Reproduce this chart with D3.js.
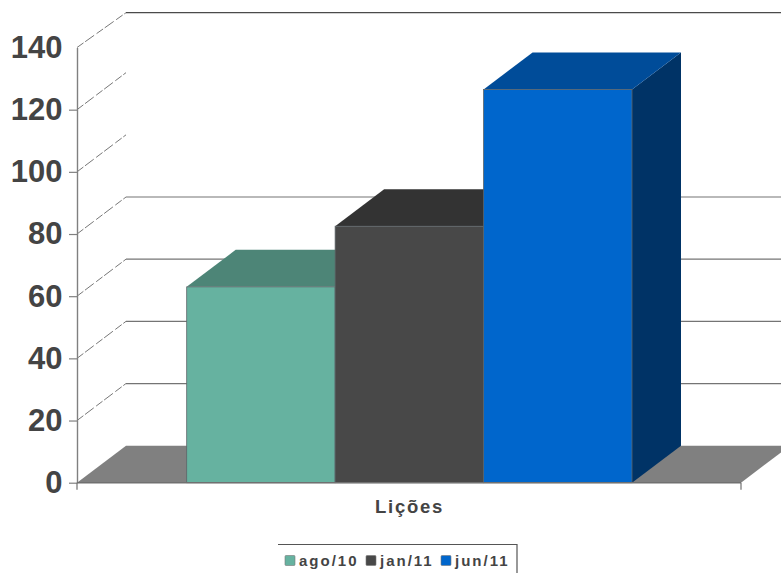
<!DOCTYPE html>
<html>
<head>
<meta charset="utf-8">
<style>
html, body { margin: 0; padding: 0; background: #fff; overflow: hidden; }
svg { display: block; }
text { font-family: "Liberation Sans", Arial, sans-serif; font-weight: bold; fill: #444; }
</style>
<script src="https://cdn.jsdelivr.net/npm/d3@7"></script>
</head>
<body>
<svg id="chart" width="781" height="573"></svg>
<script>
// Chart content
const category = "Lições";
const seriesNames = ["ago/10", "jan/11", "jun/11"];
const seriesValues = [63, 82.5, 126.5];
const tickValues = [0, 20, 40, 60, 80, 100, 120, 140];
const backWallLines = [20, 40, 60, 80, 140];

// Shades for each bar: front, top and right-hand faces
const frontColors = ["#66b2a0", "#484848", "#0066cc"];
const topColors = ["#4d8577", "#333333", "#004c99"];
const sideColors = ["#3c6a5f", "#262626", "#003366"];

// Oblique projection offset of the 3D box
const depthX = 49;
const depthY = -37;
const topRimY = 12.7;

const svg = d3.select("#chart");
const y = d3.scaleLinear().domain([0, 140]).range([482.7, 47.5]);
const x = d3.scaleBand().domain(seriesNames).range([186.7, 632]);
const plotLeft = 77, plotRight = 741;
const poly = pts => pts.map(p => p.join(",")).join(" ");
const backY = d => d === 140 ? topRimY : y(d) + depthY;

// Back wall rules and the dashed links running from the axis to them
svg.append("g").selectAll("line").data(backWallLines).join("line")
  .attr("x1", plotLeft + depthX).attr("x2", plotRight + depthX)
  .attr("y1", backY).attr("y2", backY)
  .attr("stroke", d => d === 140 ? "#4a4a4a" : "#747474").attr("stroke-width", 1.2);

svg.append("g").selectAll("line").data(tickValues.filter(d => d > 0)).join("line")
  .attr("x1", plotLeft).attr("y1", d => y(d))
  .attr("x2", plotLeft + depthX).attr("y2", backY)
  .attr("stroke", "#777").attr("stroke-width", 1)
  .attr("stroke-dasharray", "8 2 11 3");

// Floor
svg.append("polygon")
  .attr("points", poly([
    [plotLeft, y(0)], [plotRight, y(0)],
    [plotRight + depthX, y(0) + depthY], [plotLeft + depthX, y(0) + depthY]
  ]))
  .attr("fill", "#808080");

// Bars, left to right so each one overlaps the previous
const bars = svg.append("g").selectAll("g").data(seriesNames).join("g");
const edge = sel => sel.attr("stroke", "#5c6468").attr("stroke-width", 0.8);

bars.append("polygon")
  .attr("points", (d, i) => {
    const x0 = x(d), x1 = x0 + x.bandwidth(), t = y(seriesValues[i]);
    return poly([[x1, t], [x1 + depthX, t + depthY], [x1 + depthX, y(0) + depthY], [x1, y(0)]]);
  })
  .attr("fill", (d, i) => sideColors[i]);

bars.append("polygon")
  .attr("points", (d, i) => {
    const x0 = x(d), x1 = x0 + x.bandwidth(), t = y(seriesValues[i]);
    return poly([[x0, t], [x1, t], [x1 + depthX, t + depthY], [x0 + depthX, t + depthY]]);
  })
  .attr("fill", (d, i) => topColors[i]);

bars.append("rect")
  .attr("x", d => x(d))
  .attr("y", (d, i) => y(seriesValues[i]))
  .attr("width", x.bandwidth())
  .attr("height", (d, i) => y(0) - y(seriesValues[i]))
  .attr("fill", (d, i) => frontColors[i])
  .call(edge);

// Value axis
const yAxis = svg.append("g")
  .attr("transform", `translate(${plotLeft},0)`)
  .call(d3.axisLeft(y).tickValues(tickValues).tickSize(8).tickPadding(6).tickSizeOuter(0));
yAxis.select(".domain").attr("stroke", "#808080").attr("stroke-width", 1.4);
yAxis.selectAll(".tick line").attr("stroke", "#808080").attr("stroke-width", 1.2);
yAxis.selectAll(".tick").filter(d => d === 140).select("line").remove();
yAxis.selectAll("text")
  .attr("font-family", null)
  .style("font-size", "31px")
  .style("fill", "#444")
  .attr("x", -14.5);

// Category axis
const xAxis = svg.append("g").attr("transform", `translate(0,${y(0)})`);
xAxis.append("line").attr("x1", plotLeft).attr("x2", plotRight)
  .attr("stroke", "#707070").attr("stroke-width", 1.4);
xAxis.selectAll("line.end").data([plotLeft, plotRight]).join("line")
  .attr("class", "end")
  .attr("x1", d => d).attr("x2", d => d).attr("y1", 0).attr("y2", 7)
  .attr("stroke", "#707070").attr("stroke-width", 1.2);

svg.append("text")
  .attr("x", 409.5).attr("y", 513)
  .attr("text-anchor", "middle")
  .style("font-size", "18.5px")
  .style("letter-spacing", "1.7px")
  .text(category);

// Legend frame and entries
const legendX = [285, 366, 441];
const legend = svg.append("g");
legend.append("path")
  .attr("d", "M278,544.5 H517 V573")
  .attr("fill", "none").attr("stroke", "#555").attr("stroke-width", 1.2);

const entries = legend.selectAll("g").data(seriesNames).join("g")
  .attr("transform", (d, i) => `translate(${legendX[i]},0)`);
entries.append("rect")
  .attr("x", 0).attr("y", 555.5).attr("width", 10).attr("height", 10).attr("rx", 1)
  .attr("fill", (d, i) => frontColors[i])
  .attr("stroke", "#777").attr("stroke-width", 0.6);
entries.append("text")
  .attr("x", 14).attr("y", 565.5)
  .style("font-size", "15px")
  .style("letter-spacing", "2px")
  .text(d => d);
</script>
</body>
</html>
